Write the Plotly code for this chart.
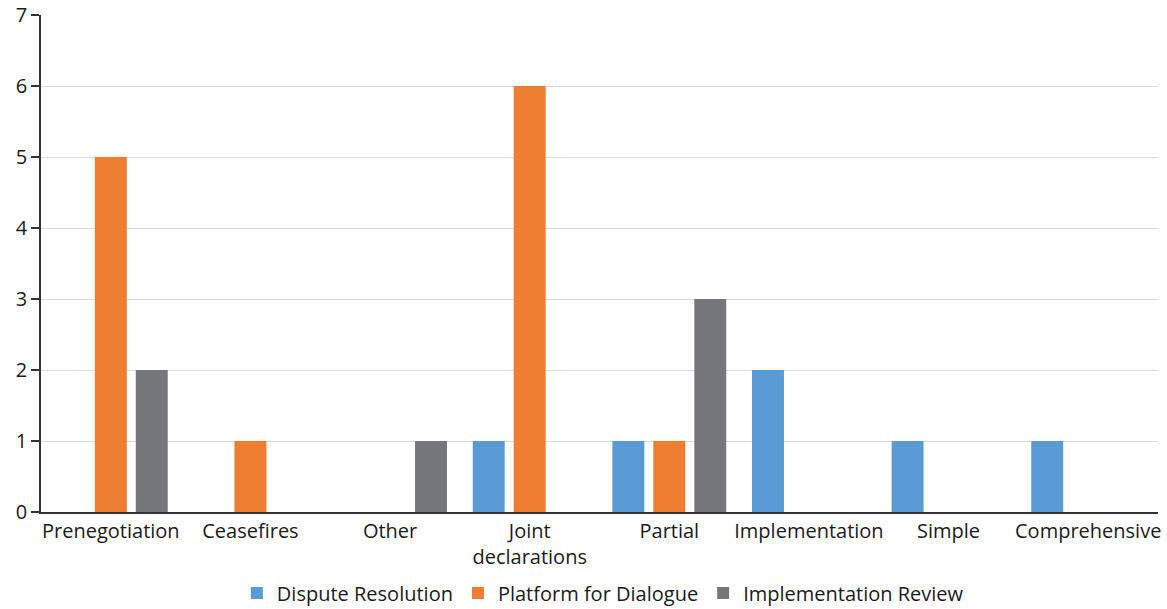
import plotly.graph_objects as go

categories = ["Prenegotiation", "Ceasefires", "Other", "Joint<br>declarations",
              "Partial", "Implementation", "Simple", "Comprehensive"]
dispute_resolution = [0, 0, 0, 1, 1, 2, 1, 1]
platform_for_dialogue = [5, 1, 0, 6, 1, 0, 0, 0]
implementation_review = [2, 0, 1, 0, 3, 0, 0, 0]

series = [
    ("Dispute Resolution", dispute_resolution, "#5B9BD5"),
    ("Platform for Dialogue", platform_for_dialogue, "#ED7D31"),
    ("Implementation Review", implementation_review, "#76777B"),
]

fig = go.Figure()
for name, vals, color in series:
    fig.add_trace(go.Bar(name=name, x=categories, y=vals, marker_color=color,
                         marker_line_width=0))

font_family = "Open Sans, sans-serif"
fig.update_layout(
    width=1167, height=609,
    margin=dict(l=41, r=9, t=15, b=97, autoexpand=False),
    paper_bgcolor="white", plot_bgcolor="white",
    barmode="group", bargap=0.12, bargroupgap=0.22,
    font=dict(family=font_family, size=20, color="#1a1a1a"),
    legend=dict(orientation="h", x=0.503, xanchor="center", y=-0.163, yanchor="middle",
                font=dict(size=20), itemwidth=30, traceorder="normal",
                bgcolor="rgba(0,0,0,0)"),
)
fig.update_xaxes(showline=True, linecolor="#333333", linewidth=1.5, ticks="",
                 tickfont=dict(size=20), showgrid=False, automargin=False)
fig.update_yaxes(range=[0, 7], dtick=1, showline=True, linecolor="#333333", linewidth=1.5,
                 ticks="outside", ticklen=8, tickcolor="#333333", tickwidth=1.5,
                 gridcolor="#D9D9D9", gridwidth=1.2, zeroline=False,
                 tickfont=dict(size=20), automargin=False)

fig.write_html("out.html")
